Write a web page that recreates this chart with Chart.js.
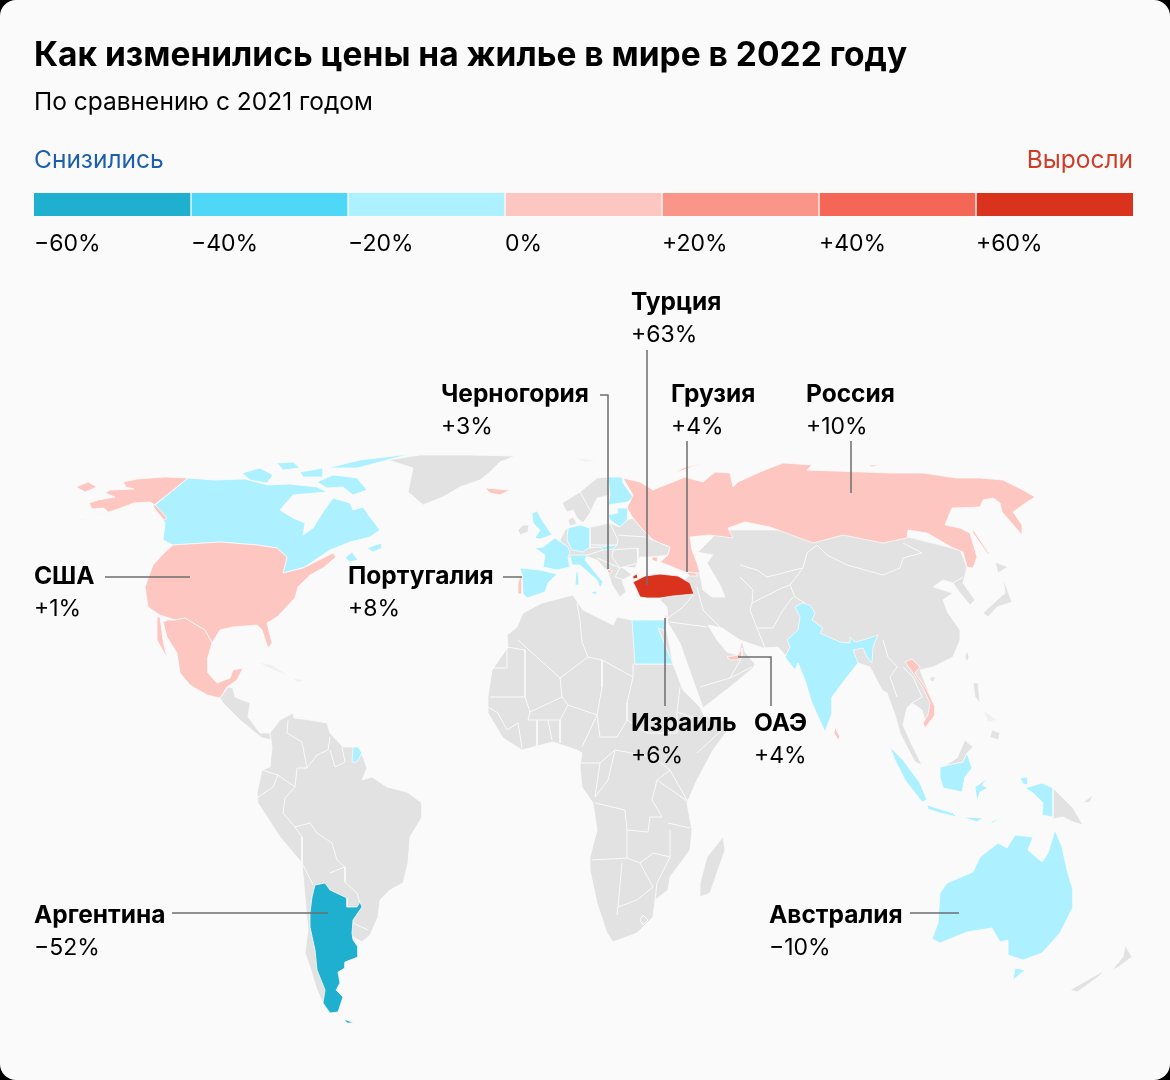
<!DOCTYPE html>
<html lang="ru">
<head>
<meta charset="utf-8">
<title>Цены на жилье</title>
<script src="https://cdn.jsdelivr.net/npm/chart.js@4"></script>
<style>
    html, body { margin: 0; padding: 0; background: #000; }
    #card { position: relative; width: 1170px; height: 1080px; background: #fafafa; border-radius: 16px; overflow: hidden; font-family: Inter, "Noto Sans", sans-serif; color: #000; }
    #map { position: absolute; left: 0; top: 0; }
    #scale { position: absolute; left: 34px; top: 193px; }
    .t { position: absolute; white-space: nowrap; line-height: 30px; font-size: 24.5px; }
    .v { font-size: 23px; }
    .b { font-weight: 700; }
    #title { left: 34px; top: 34px; font-size: 33.5px; line-height: 40px; font-weight: 700; }
</style>
</head>
<body>
<div id="card">
    <canvas id="map" width="1170" height="1080"></canvas>
    <canvas id="scale" width="1099" height="23"></canvas>
    <div class="t" id="title">Как изменились цены на жилье в мире в 2022 году</div>
    <div class="t" style="left:34px;top:86px">По сравнению с 2021 годом</div>
    <div class="t" style="left:34px;top:144px;color:#1c60ad">Снизились</div>
    <div class="t" style="right:37px;top:144px;color:#d13c28">Выросли</div>
</div>
<script>
// legend
const SCALE_LABELS = ["−60%", "−40%", "−20%", "0%", "+20%", "+40%", "+60%"];
const SCALE_BINS = [1, 1, 1, 1, 1, 1, 1];
const SCALE_COLORS = ["#1fafcf", "#4fd7f7", "#adf0ff", "#fec6c0", "#f99689", "#f46655", "#d9321d"];

// countries with a label
const LABEL_NAMES = ["Турция", "Черногория", "Грузия", "Россия", "США", "Португалия", "Израиль", "ОАЭ", "Аргентина", "Австралия"];
const LABEL_VALUES = ["+63%", "+3%", "+4%", "+10%", "+1%", "+8%", "+6%", "+4%", "−52%", "−10%"];

// map outlines, flat x,y pairs in map units
const greenland = [388,460, 413,468, 408,492, 423,505, 443,497, 460,487, 480,480, 490,472, 500,462, 515,456, 470,455, 420,455];
const centralAmerica = [220,698, 228,687, 233,688, 235,697, 250,703, 248,717, 260,733, 270,733, 272,740, 262,738, 252,730, 240,720, 223,703];
const southAmerica = [270,733, 280,720, 293,713, 294,718, 310,720, 327,723, 330,733, 343,747, 358,747, 363,757, 367,768, 362,780, 372,777, 387,787, 407,792, 422,803, 422,817, 410,837, 408,863, 403,883, 390,890, 380,900, 378,917, 370,935, 362,942, 353,937, 358,947, 358,957, 345,962, 345,968, 338,973, 340,983, 337,990, 342,997, 338,1012, 330,1013, 323,1003, 317,990, 310,967, 305,953, 308,930, 302,863, 280,837, 258,803, 257,793, 262,770, 270,767, 272,747];
const africa = [542,603, 573,595, 578,603, 583,610, 593,615, 613,625, 617,617, 632,620, 665,621, 673,664, 683,690, 700,707, 704,716, 733,723, 713,750, 697,780, 687,803, 692,830, 690,850, 670,877, 668,890, 655,900, 653,917, 637,933, 613,942, 607,933, 597,903, 590,870, 590,857, 597,830, 593,803, 582,787, 580,767, 582,753, 577,750, 553,742, 522,750, 503,738, 488,713, 488,697, 492,670, 508,647, 507,635, 517,627, 523,613];
const madagascar = [723,837, 725,850, 710,893, 700,897, 700,883, 707,857];
const asia = [660,600, 667,607, 668,623, 680,643, 693,680, 703,708, 730,687, 753,668, 755,664, 745,652, 742,640, 738,655, 727,652, 717,640, 708,625, 722,628, 740,640, 763,648, 778,647, 785,655, 858,663, 870,667, 882,690, 887,693, 895,715, 900,733, 907,747, 915,762, 922,765, 912,745, 903,725, 907,708, 912,703, 922,710, 925,720, 935,712, 930,695, 920,670, 933,667, 953,657, 960,640, 960,630, 948,613, 943,600, 953,593, 933,587, 943,580, 953,583, 960,593, 970,605, 975,600, 963,583, 967,567, 960,550, 900,535, 800,530, 720,530, 690,560, 690,575];
const caspian = [697,552, 713,555, 707,563, 720,585, 725,597, 712,597, 703,590, 700,575, 693,565];
const europe = [568,528, 592,527, 610,523, 620,527, 627,520, 633,518, 643,530, 653,540, 670,547, 668,555, 653,557, 640,557, 635,568, 622,567, 632,575, 622,580, 626,592, 620,597, 612,585, 608,572, 597,560, 588,557, 575,558, 565,558, 560,540, 565,530];
const scandinavia = [562,503, 580,492, 597,478, 608,477, 610,495, 597,498, 590,513, 583,523, 577,518, 573,510, 567,512];
const denmark = [568,520, 573,517, 577,524, 570,526];
const ireland = [518,530, 523,525, 529,525, 528,532, 520,535];
const taiwan = [967,650, 969,657, 967,662, 965,657];
const hainan = [930,677, 936,677, 933,682, 930,680];
const honshu = [1003,578, 1012,602, 997,607, 988,617, 983,613, 997,600, 1005,593];
const hokkaido = [995,562, 1008,567, 998,573];
const luzon = [973,683, 978,683, 980,703, 975,697];
const mindanao = [992,730, 1000,733, 998,740, 990,737];
const malayBorneo = [943,767, 957,758, 965,740, 973,747, 967,753, 963,762];
const papua = [1053,788, 1073,808, 1083,825, 1073,822, 1063,817, 1053,819];
const newBritain = [1082,803, 1093,795, 1090,802];
const nzNorth = [1112,970, 1123,957, 1125,945, 1132,957, 1117,968];
const nzSouth = [1070,990, 1105,970, 1097,978, 1077,992];

const cuba = [257,662, 273,665, 290,677, 273,670];
const hispaniola = [293,678, 305,680, 297,683];
const svalbard = [575,458, 598,460, 585,462];
const visayas = [983,710, 997,720, 988,722];

const canada = [188,478, 215,480, 245,479, 268,485, 290,484, 317,487, 327,492, 293,495, 280,510, 293,518, 305,523, 303,535, 313,528, 323,512, 333,498, 350,503, 353,510, 363,507, 370,517, 380,530, 370,537, 350,542, 330,550, 315,560, 305,567, 283,573, 287,557, 277,548, 257,545, 220,542, 173,545, 163,540, 165,523, 155,505];
const baffin = [317,482, 333,475, 357,478, 367,490, 353,495, 343,487, 327,488];
const victoria = [242,473, 260,468, 273,475, 267,483, 250,480];
const banks = [277,463, 293,462, 300,468, 283,470];
const ellesmere = [327,468, 360,460, 410,454, 380,462, 357,468];
const parry = [300,472, 323,468, 323,477, 303,477];
const newfoundland = [367,548, 382,543, 382,548, 373,552];
const novaScotia = [345,558, 352,552, 358,560, 350,562];
const spain = [520,568, 540,570, 557,574, 548,583, 545,592, 527,598, 523,594, 522,575];
const france = [555,538, 568,547, 570,552, 568,557, 570,567, 557,570, 543,567, 545,555, 535,548, 543,547];
const britain = [532,513, 537,511, 542,520, 552,535, 540,539, 535,538, 540,530, 533,523];
const germany = [568,528, 580,525, 590,528, 590,547, 583,552, 572,550, 567,540];
const italy = [570,555, 587,555, 585,560, 603,582, 600,588, 597,580, 580,565, 572,565];
const sardinia = [576,572, 578,572, 579,585, 575,585];
const sicily = [590,592, 597,591, 596,595];
const slovakia = [600,547, 617,545, 613,549, 603,550];
const finland = [608,477, 622,477, 623,483, 633,497, 628,502, 608,505, 610,495];
const baltics = [617,508, 628,508, 627,520, 620,527, 610,520, 608,515, 618,513];
const egypt = [632,620, 665,620, 666,631, 658,628, 673,664, 635,664];
const india = [795,607, 802,603, 810,605, 815,613, 812,620, 823,628, 820,633, 840,642, 850,643, 850,637, 855,642, 863,640, 878,635, 873,647, 872,663, 867,657, 863,648, 853,650, 858,663, 847,677, 832,697, 832,713, 825,732, 812,703, 805,680, 798,663, 795,670, 785,657, 790,647, 787,640, 798,630, 800,617];
const frenchGuiana = [353,747, 358,747, 362,753, 357,762, 352,762];
const sumatra = [890,747, 903,760, 920,783, 927,800, 922,802, 905,780, 895,760];
const java = [927,805, 953,813, 957,817, 940,813, 928,809];
const sunda = [963,817, 983,818, 977,822];
const timor = [990,823, 1000,817, 993,823];
const borneo = [940,767, 963,762, 967,753, 972,768, 965,777, 962,792, 943,788, 940,777];
const sulawesi = [975,787, 988,778, 982,785, 988,788, 980,792, 977,802];
const halmahera = [1020,778, 1028,777, 1028,785, 1023,784];
const westPapua = [1025,788, 1042,783, 1053,788, 1053,817, 1042,815, 1043,803, 1033,793];
const australia = [932,939, 938,923, 940,893, 947,883, 973,872, 980,857, 998,843, 1007,848, 1015,835, 1033,837, 1028,850, 1042,862, 1048,853, 1055,830, 1062,847, 1067,870, 1073,890, 1073,907, 1060,933, 1042,953, 1023,960, 1008,955, 1008,940, 1000,942, 992,928, 967,932, 940,943];
const tasmania = [1015,968, 1025,970, 1013,980];

const alaska = [188,478, 165,477, 137,479, 123,482, 126,487, 134,489, 110,490, 105,493, 115,497, 98,500, 89,503, 92,509, 104,508, 108,512, 82,520, 75,521, 100,515, 118,509, 134,503, 150,502, 155,505, 160,510, 167,518, 164,520, 157,512, 153,506];
const usa = [173,545, 220,542, 257,545, 277,548, 287,557, 283,573, 303,568, 315,562, 333,553, 336,557, 323,568, 310,575, 298,587, 295,598, 277,617, 267,623, 272,643, 268,648, 262,630, 257,625, 233,627, 220,630, 212,643, 205,630, 193,623, 185,618, 175,620, 160,615, 148,607, 145,587, 153,565, 165,552];
const mexico = [167,620, 175,620, 185,618, 193,623, 205,630, 212,643, 208,657, 208,673, 217,683, 230,678, 233,670, 243,668, 237,680, 227,687, 220,698, 207,695, 190,685, 180,673, 177,653, 167,637, 163,622];
const baja = [157,617, 160,617, 163,640, 167,658, 157,640];
const russia = [728,528, 745,522, 770,527, 813,543, 843,535, 883,543, 907,538, 908,530, 927,533, 953,548, 963,552, 967,567, 973,568, 977,557, 970,533, 960,528, 945,525, 947,520, 952,508, 980,507, 983,500, 993,498, 1000,503, 1002,512, 1022,535, 1022,525, 1013,512, 1027,502, 1035,497, 1023,490, 1003,480, 980,478, 957,478, 923,473, 890,473, 863,472, 807,470, 812,465, 783,463, 760,472, 738,482, 733,487, 730,473, 715,472, 703,482, 685,477, 673,482, 660,487, 653,490, 640,482, 623,478, 633,495, 627,508, 633,518, 643,530, 653,540, 670,547, 668,555, 660,562, 685,572, 700,573, 697,563, 692,550, 690,537, 710,535, 733,538];
const chukotka = [76,487, 88,482, 97,487, 85,492];
const sakhalin = [972,528, 990,555, 987,553, 973,533];
const novayaZemlya = [675,473, 703,463, 683,468];
const severnaya = [868,465, 880,465, 872,467];
const crimea = [652,557, 658,557, 657,562, 652,560];
const iceland = [485,488, 510,490, 500,495, 490,493];
const portugal = [522,575, 522,594, 518,594, 518,583, 520,577];
const montenegro = [609,569, 612,571, 610,574, 607,571];
const georgia = [685,572, 695,573, 698,576, 690,576];
const israel = [665,615, 667,615, 667,624, 665,624];
const uae = [727,657, 738,655, 742,648, 742,657, 737,660, 730,660];
const vietnam = [905,662, 912,659, 920,667, 915,673, 927,690, 935,707, 935,715, 925,728, 923,723, 928,715, 930,703, 923,688, 913,673];
const sriLanka = [835,727, 840,737, 838,740, 834,733];
const turkey = [633,582, 645,576, 660,574, 678,576, 690,583, 694,594, 673,596, 660,598, 647,598, 640,597, 636,588];
const thrace = [633,576, 637,574, 638,578, 633,579];
const argentina = [315,885, 325,883, 330,890, 347,898, 347,907, 357,907, 360,902, 362,907, 353,920, 352,933, 353,940, 358,947, 358,957, 345,962, 345,968, 338,972, 340,983, 336,990, 343,997, 338,1012, 330,1013, 323,1003, 325,990, 317,970, 315,950, 310,927, 310,913, 312,897];
const tierraDelFuego = [344,1019, 354,1023, 347,1023];

// thin white frontiers inside the grey land
const BORDER_LINES = [
    [288,720, 287,733, 302,742, 307,768, 317,755, 328,750, 330,737],
    [330,750, 335,767, 345,762, 342,747],
    [307,768, 297,768, 295,787, 285,798, 283,813, 295,827, 310,823, 317,833, 332,843, 337,860, 345,867, 345,882, 357,893, 360,903],
    [262,770, 278,775, 295,787], [258,797, 273,787, 278,775],
    [295,827, 302,837, 302,863, 313,885], [330,873, 337,870, 345,867], [353,923, 368,930],
    [518,640, 560,678, 588,657, 582,642, 580,620, 577,603],
    [588,657, 602,660, 633,677, 633,664],
    [490,668, 507,668, 507,647, 525,650, 525,697, 505,697, 490,697],
    [560,678, 562,697, 530,712, 525,697],
    [602,660, 602,687, 597,715, 568,705, 562,697],
    [633,677, 627,703, 627,720, 617,737, 600,737, 597,715],
    [627,720, 647,733, 677,733, 677,712, 680,687], [633,664, 673,664],
    [677,712, 700,720], [697,753, 722,730],
    [568,705, 560,720, 560,743], [597,715, 582,747],
    [548,720, 552,740], [537,720, 537,747], [518,723, 522,748], [530,712, 528,720, 560,720],
    [488,707, 498,713, 507,730, 518,723],
    [582,763, 600,763, 615,750, 653,757, 670,770, 657,780, 652,800, 662,817, 650,817, 648,832, 627,830, 625,810, 595,803],
    [670,770, 687,800], [657,780, 690,803], [668,823, 690,828],
    [592,860, 627,858, 627,830], [627,858, 640,863, 653,853, 670,857, 670,830],
    [622,863, 618,907, 617,915], [640,863, 653,887, 637,900, 618,907],
    [670,857, 657,883, 655,900], [640,920, 643,915, 648,920, 643,925, 640,920],
    [600,763, 595,797, 608,780, 615,750],
    [817,545, 827,555, 847,565, 883,575, 900,568, 903,558, 922,553, 903,543],
    [817,545, 807,553, 803,568, 790,585, 795,597, 805,603],
    [740,565, 757,570, 767,577, 783,573, 802,568], [740,577, 753,590, 752,603, 782,588, 790,585],
    [752,603, 750,610, 757,628, 773,628, 783,610, 793,597], [757,628, 765,648],
    [697,587, 703,610, 720,627], [693,595, 683,607, 668,618], [670,622, 707,627],
    [700,687, 730,678, 752,667], [730,678, 742,657],
    [883,640, 888,657, 897,667, 890,677, 897,697], [903,667, 913,677, 922,697, 912,703],
    [953,583, 963,577], [618,535, 645,537, 653,540], [610,523, 618,540, 617,545, 590,545],
    [613,550, 637,548, 638,563, 620,568, 612,557, 613,550], [597,558, 620,568], [620,568, 615,577, 625,580],
    [587,548, 600,547], [587,555, 603,550], [580,492, 590,510]
];

// leader lines, from the label to the country
const LEADERS = [
    [647,350, 647,585], [600,395, 608,395, 608,569], [687,441, 687,572], [851,441, 851,493],
    [105,577, 190,577], [503,577, 522,577], [665,618, 665,706], [738,657, 771,657, 771,706],
    [172,913, 328,913], [910,913, 959,913]
];

const GREY = "#e2e2e2", FAINT = "#f0f0f0", BG = "#fafafa", LEADER = "#6e6e6e";
const greyShapes = [greenland, centralAmerica, southAmerica, africa, madagascar, asia, europe, scandinavia, denmark, ireland, taiwan, hainan, honshu, hokkaido, luzon, mindanao, malayBorneo, papua, newBritain, nzNorth, nzSouth];
const faintShapes = [cuba, hispaniola, svalbard, visayas];
const lightBlueShapes = [canada, baffin, victoria, banks, ellesmere, parry, newfoundland, novaScotia, spain, france, britain, germany, italy, sardinia, sicily, slovakia, finland, baltics, egypt, india, frenchGuiana, sumatra, java, sunda, timor, borneo, sulawesi, halmahera, westPapua, australia, tasmania];
const paleRedShapes = [alaska, usa, mexico, baja, russia, chukotka, sakhalin, novayaZemlya, severnaya, crimea, iceland, portugal, montenegro, georgia, israel, uae, vietnam, sriLanka];
const redShapes = [turkey, thrace];
const tealShapes = [argentina, tierraDelFuego];

const LABEL_POS = [[631,286], [441,378], [671,378], [806,378], [34,560], [348,560], [631,707], [754,707], [34,899], [769,899]];
const LABEL_GAP = 33;

function toPoints(flat) {
    const points = [];
    for (let i = 0; i < flat.length; i += 2) {
        points.push({x: flat[i], y: flat[i + 1]});
    }
    return points;
}

function shapeDataset(flat, color) {
    const points = toPoints(flat);
    points.push(points[0]);
    return {data: points, showLine: true, fill: "shape", backgroundColor: color, borderColor: BG, borderWidth: 0.8, pointRadius: 0, tension: 0};
}

function lineDataset(flat, color, width) {
    return {data: toPoints(flat), showLine: true, fill: false, borderColor: color, borderWidth: width, pointRadius: 0, tension: 0};
}

const datasets = [
    ...greyShapes.map(s => shapeDataset(s, GREY)),
    ...faintShapes.map(s => shapeDataset(s, FAINT)),
    shapeDataset(caspian, BG),
    ...BORDER_LINES.map(l => lineDataset(l, BG, 1)),
    ...lightBlueShapes.map(s => shapeDataset(s, SCALE_COLORS[2])),
    ...paleRedShapes.map(s => shapeDataset(s, SCALE_COLORS[3])),
    ...redShapes.map(s => shapeDataset(s, SCALE_COLORS[6])),
    ...tealShapes.map(s => shapeDataset(s, SCALE_COLORS[0])),
    ...LEADERS.map(l => lineDataset(l, LEADER, 1.5))
];

new Chart(document.getElementById("map"), {
    type: "scatter",
    // the first dataset is painted last, so the list goes top layer first
    data: {datasets: datasets.reverse()},
    options: {
        responsive: false,
        animation: false,
        layout: {padding: 0},
        plugins: {legend: {display: false}, tooltip: {enabled: false}},
        scales: {
            x: {type: "linear", min: 0, max: 1170, display: false},
            y: {type: "linear", min: 0, max: 1080, reverse: true, display: false}
        }
    }
});

new Chart(document.getElementById("scale"), {
    type: "bar",
    data: {
        labels: [""],
        datasets: SCALE_BINS.map((v, i) => ({
            data: [v],
            backgroundColor: SCALE_COLORS[i],
            borderColor: BG,
            borderWidth: {left: i ? 1 : 0, right: i < 6 ? 1 : 0},
            borderSkipped: false,
            barPercentage: 1,
            categoryPercentage: 1
        }))
    },
    options: {
        indexAxis: "y",
        responsive: false,
        animation: false,
        layout: {padding: 0},
        plugins: {legend: {display: false}, tooltip: {enabled: false}},
        scales: {
            x: {stacked: true, min: 0, max: SCALE_BINS.length, display: false},
            y: {stacked: true, display: false}
        }
    }
});

const card = document.getElementById("card");

function addText(text, left, top, cls) {
    const el = document.createElement("div");
    el.className = "t " + cls;
    el.style.left = left + "px";
    el.style.top = top + "px";
    el.textContent = text;
    card.appendChild(el);
}

SCALE_LABELS.forEach((text, i) => addText(text, 34 + i * 157, 228, "v"));
LABEL_NAMES.forEach((name, i) => {
    addText(name, LABEL_POS[i][0], LABEL_POS[i][1], "b");
    addText(LABEL_VALUES[i], LABEL_POS[i][0], LABEL_POS[i][1] + LABEL_GAP, "v");
});
</script>
</body>
</html>
